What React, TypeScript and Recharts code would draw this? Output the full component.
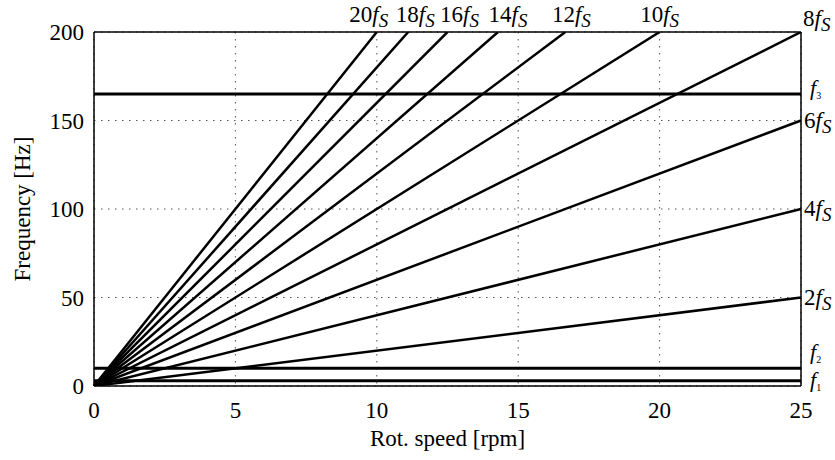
import {
  LineChart,
  Line,
  XAxis,
  YAxis,
  CartesianGrid,
  ReferenceLine,
  ReferenceDot,
} from "recharts";

// rotational speed range [rpm] and harmonic orders of f_s (f_s = 1 Hz per rpm)
const rpmRange = [0, 25];
const harmonicOrders = [2, 4, 6, 8, 10, 12, 14, 16, 18, 20];

// fixed frequencies f1, f2, f3 [Hz]
const fixedIndex = ["1", "2", "3"];
const fixedHz = [3, 10, 165];

const xTicks = [0, 5, 10, 15, 20, 25];
const yTicks = [0, 50, 100, 150, 200];
const yMax = 200;

// label tweaks so the crowded top labels don't overlap
const topShift: Record<number, number> = { 20: -8, 18: 7, 16: 12, 14: 10, 12: 6, 10: 0 };
const fixedLabelDy = [6, -9, 1];

const FONT = "'Liberation Serif', 'Times New Roman', serif";
const FS = 23;

const lineData = (k: number) => {
  const end = Math.min(rpmRange[1], yMax / k);
  return [
    { rpm: rpmRange[0], hz: k * rpmRange[0] },
    { rpm: end, hz: k * end },
  ];
};

const HarmonicText = ({ k, x, y, anchor }: { k: number; x: number; y: number; anchor: string }) => (
  <text x={x} y={y} textAnchor={anchor} fontFamily={FONT} fontSize={FS} fill="#000">
    <tspan>{k}</tspan>
    <tspan fontStyle="italic">f</tspan>
    <tspan fontStyle="italic" fontSize={19} dy={5}>
      S
    </tspan>
  </text>
);

const harmonicLabel = (k: number) => (props: any) => {
  const vb = props.viewBox || {};
  const cx = vb.x + (vb.width || 0) / 2;
  const cy = vb.y + (vb.height || 0) / 2;
  if (k * rpmRange[1] < yMax) {
    return <HarmonicText k={k} x={cx + 3} y={cy + 7} anchor="start" />;
  }
  if (k * rpmRange[1] === yMax) {
    return <HarmonicText k={k} x={cx + 2} y={cy - 6} anchor="start" />;
  }
  return <HarmonicText k={k} x={cx + (topShift[k] || 0)} y={cy - 10} anchor="middle" />;
};

const fixedLabel = (i: number) => (props: any) => {
  const vb = props.viewBox || {};
  const x = vb.x + vb.width + 9;
  const y = vb.y + fixedLabelDy[i];
  return (
    <text x={x} y={y} fontFamily={FONT} fontSize={22} fill="#000">
      <tspan fontStyle="italic">f</tspan>
      <tspan fontSize={10} dy={4}>
        {fixedIndex[i]}
      </tspan>
    </text>
  );
};

const xLabel = (props: any) => {
  const vb = props.viewBox || {};
  return (
    <text x={vb.x + vb.width / 2} y={vb.y + 60} textAnchor="middle" fontFamily={FONT} fontSize={FS} fill="#000">
      Rot. speed [rpm]
    </text>
  );
};

const yLabel = (props: any) => {
  const vb = props.viewBox || {};
  const x = 22;
  const y = vb.y + vb.height / 2;
  return (
    <text
      x={x}
      y={y}
      transform={`rotate(-90 ${x} ${y})`}
      textAnchor="middle"
      dominantBaseline="central"
      fontFamily={FONT}
      fontSize={FS}
      fill="#000"
    >
      Frequency [Hz]
    </text>
  );
};

const tickStyle = { fontFamily: FONT, fontSize: FS, fill: "#000" };
const frame = { stroke: "#000", strokeWidth: 1.5 };
const tickMark = { stroke: "#000", strokeWidth: 1.2 };

export default function App() {
  return (
    <div style={{ position: "absolute", left: 0, top: 0, background: "#fff" }}>
      <LineChart
        width={835}
        height={460}
        margin={{ top: 32, right: 34, bottom: 73, left: 93 }}
      >
        <CartesianGrid
          xAxisId="b"
          yAxisId="l"
          stroke="#555"
          strokeDasharray="1.5 5.5"
          verticalValues={xTicks}
          horizontalValues={yTicks}
        />

        {/* bottom axis: labels outside, ticks inside */}
        <XAxis
          xAxisId="b"
          type="number"
          dataKey="rpm"
          domain={[0, 25]}
          ticks={xTicks}
          height={1}
          tickLine={false}
          tickSize={0}
          tickMargin={16}
          tick={tickStyle}
          axisLine={frame}
          label={{ content: xLabel }}
        />
        <XAxis
          xAxisId="bt"
          type="number"
          dataKey="rpm"
          domain={[0, 25]}
          ticks={xTicks}
          height={1}
          mirror
          tick={false}
          tickSize={5}
          axisLine={false}
          tickLine={tickMark}
        />
        <XAxis
          xAxisId="t"
          orientation="top"
          type="number"
          dataKey="rpm"
          domain={[0, 25]}
          ticks={xTicks}
          height={1}
          mirror
          tick={false}
          tickSize={5}
          axisLine={frame}
          tickLine={tickMark}
        />

        {/* left axis: labels outside, ticks inside */}
        <YAxis
          yAxisId="l"
          type="number"
          domain={[0, yMax]}
          allowDataOverflow
          ticks={yTicks}
          width={1}
          tickLine={false}
          tickSize={0}
          tickMargin={10}
          tick={tickStyle}
          axisLine={frame}
          label={{ content: yLabel }}
        />
        <YAxis
          yAxisId="lt"
          type="number"
          domain={[0, yMax]}
          ticks={yTicks}
          width={1}
          mirror
          tick={false}
          tickSize={5}
          axisLine={false}
          tickLine={tickMark}
        />
        <YAxis
          yAxisId="r"
          orientation="right"
          type="number"
          domain={[0, yMax]}
          ticks={yTicks}
          width={1}
          mirror
          tick={false}
          tickSize={5}
          axisLine={frame}
          tickLine={tickMark}
        />

        {fixedHz.map((hz, i) => (
          <ReferenceLine
            key={`f${fixedIndex[i]}`}
            xAxisId="b"
            yAxisId="l"
            y={hz}
            stroke="#000"
            strokeWidth={3}
            label={{ content: fixedLabel(i) }}
          />
        ))}

        {harmonicOrders.map((k) => (
          <Line
            key={`h${k}`}
            xAxisId="b"
            yAxisId="l"
            data={lineData(k)}
            dataKey="hz"
            type="linear"
            stroke="#000"
            strokeWidth={2.5}
            dot={false}
            activeDot={false}
            isAnimationActive={false}
          />
        ))}

        {harmonicOrders.map((k) => {
          const end = lineData(k)[1];
          return (
            <ReferenceDot
              key={`lbl${k}`}
              xAxisId="b"
              yAxisId="l"
              x={end.rpm}
              y={end.hz}
              r={1}
              fill="none"
              stroke="none"
              label={{ content: harmonicLabel(k) }}
            />
          );
        })}
      </LineChart>
    </div>
  );
}
